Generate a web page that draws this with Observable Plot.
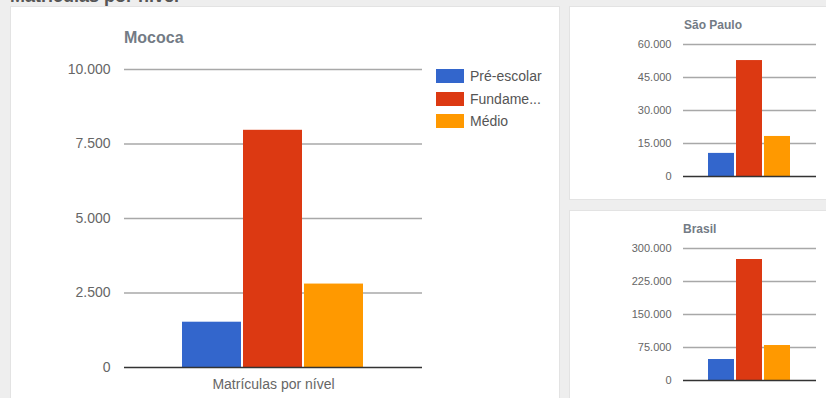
<!DOCTYPE html>
<html>
<head>
<meta charset="utf-8">
<script src="https://cdn.jsdelivr.net/npm/d3@7"></script>
<script src="https://cdn.jsdelivr.net/npm/@observablehq/plot@0.6"></script>
<style>
  html, body { margin: 0; padding: 0; background: #eeeeee; overflow: hidden; }
  body { font-family: "Liberation Sans", Arial, sans-serif; }
  #page { position: relative; width: 826px; height: 398px; overflow: hidden; }
  .panel { position: absolute; background: #ffffff; box-sizing: border-box; border: 1px solid #e3e3e3; }
  .abs { position: absolute; }
  .title { position: absolute; font-weight: bold; color: #737b85; white-space: nowrap; }
  .legend-row { position: absolute; display: flex; align-items: center; font-size: 14px; color: #555; white-space: nowrap; }
  .legend-row span.sw { display: inline-block; width: 28px; height: 14px; margin-right: 6px; }
</style>
</head>
<body>
<div id="page"></div>
<script>
// ---------- data ----------
const pageTitle = "Matrículas por nível";
const group = "Matrículas por nível";
const levels = ["Pré-escolar", "Fundamental", "Médio"];
const legendLabels = ["Pré-escolar", "Fundame...", "Médio"];
const colors = ["#3366cc", "#dc3912", "#ff9900"];

const mococaTitle = "Mococa";
const mococaValues = [1520, 7960, 2800];
const mococaTicks = [0, 2500, 5000, 7500, 10000];

const spTitle = "São Paulo";
const spValues = [10500, 52700, 18200];
const spTicks = [0, 15000, 30000, 45000, 60000];

const brTitle = "Brasil";
const brValues = [47700, 275000, 79500];
const brTicks = [0, 75000, 150000, 225000, 300000];

// ---------- helpers ----------
const ptBR = d3.formatLocale({decimal: ",", thousands: ".", grouping: [3], currency: ["R$", ""]});
const fmt = ptBR.format(",d");
const page = document.getElementById("page");

function el(tag, cls, css, text) {
  const e = document.createElement(tag);
  if (cls) e.className = cls;
  Object.assign(e.style, css);
  if (text != null) e.textContent = text;
  page.appendChild(e);
  return e;
}

function chart(o) {
  const data = levels.map((l, i) => ({group, level: l, value: o.values[i]}));
  return Plot.plot({
    width: o.width, height: o.height,
    marginLeft: o.ml, marginRight: o.mr, marginTop: o.mt, marginBottom: o.mb,
    style: {fontFamily: "'Liberation Sans', Arial, sans-serif", fontSize: o.fontSize + "px", color: "#666", background: "transparent", overflow: "visible"},
    fx: {padding: 0, axis: o.groupLabel ? "bottom" : null, label: null, tickSize: 0, tickPadding: 12},
    x: {domain: levels, paddingInner: o.pi, paddingOuter: o.po, axis: null},
    y: {domain: [o.ticks[0], o.ticks[o.ticks.length - 1]], ticks: o.ticks, tickFormat: fmt, tickSize: 0, tickPadding: o.tp, label: null},
    color: {domain: levels, range: colors},
    marks: [
      Plot.ruleY(o.ticks.slice(1), {stroke: "#a8a8a8", strokeWidth: 1.5}),
      Plot.barY(data, {fx: "group", x: "level", y: "value", fill: "level"}),
      Plot.ruleY([0], {stroke: "#333", strokeWidth: 1.5})
    ]
  });
}

// ---------- layout ----------
el("div", "title", {left: "10px", top: "-13px", fontSize: "18px", lineHeight: "18px", color: "#555"}, pageTitle);
el("div", "panel", {left: "10px", top: "6px", width: "550px", height: "400px"});
el("div", "panel", {left: "569px", top: "6px", width: "262px", height: "194px"});
el("div", "panel", {left: "569px", top: "210px", width: "262px", height: "200px"});

// main chart
const main = chart({values: mococaValues, ticks: mococaTicks, width: 560, height: 398,
  ml: 124, mr: 138, mt: 69, mb: 31, fontSize: 14, tp: 14, pi: 0.03, po: 0.927, groupLabel: true});
main.classList.add("abs"); main.style.left = "0px"; main.style.top = "0px";
page.appendChild(main);
el("div", "title", {left: "124px", top: "30px", fontSize: "16px", lineHeight: "16px"}, mococaTitle);

// legend
const colorScale = main.scale("color");
levels.forEach((l, i) => {
  const row = el("div", "legend-row", {left: "436px", top: (69 + i * 22.5) + "px", height: "14px"});
  const sw = document.createElement("span");
  sw.className = "sw";
  sw.style.background = colorScale.apply(l);
  row.appendChild(sw);
  const t = document.createElement("span");
  t.textContent = legendLabels[i];
  row.appendChild(t);
});

// São Paulo
const sp = chart({values: spValues, ticks: spTicks, width: 257, height: 200,
  ml: 114, mr: 10, mt: 44, mb: 24, fontSize: 11, tp: 12, pi: 0.054, po: 0.9, groupLabel: false});
sp.classList.add("abs"); sp.style.left = "569px"; sp.style.top = "0px";
page.appendChild(sp);
el("div", "title", {left: "684px", top: "19px", fontSize: "12px", lineHeight: "12px"}, spTitle);

// Brasil
const br = chart({values: brValues, ticks: brTicks, width: 257, height: 198,
  ml: 114, mr: 10, mt: 48, mb: 18, fontSize: 11, tp: 12, pi: 0.054, po: 0.9, groupLabel: false});
br.classList.add("abs"); br.style.left = "569px"; br.style.top = "200px";
page.appendChild(br);
el("div", "title", {left: "683px", top: "222.5px", fontSize: "12px", lineHeight: "12px"}, brTitle);
</script>
</body>
</html>
